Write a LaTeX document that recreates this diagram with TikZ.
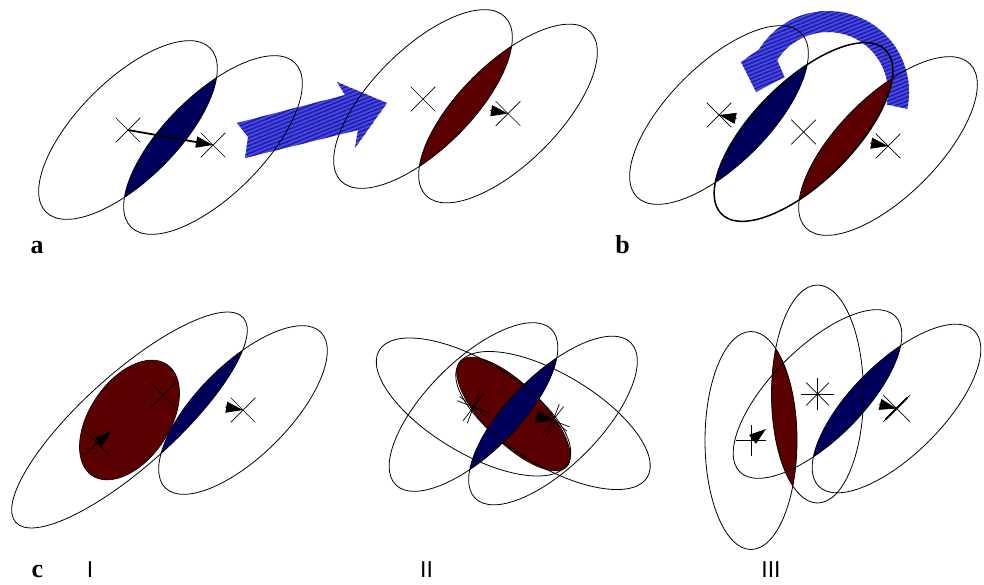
\documentclass[tikz,border=0pt]{standalone}
\usepackage{fontspec}
\setmainfont{Liberation Serif}
\newfontfamily\numfont{Liberation Sans}
\usetikzlibrary{arrows.meta,positioning,calc,shapes.misc,patterns.meta}
\definecolor{lensnavy}{RGB}{0,0,92}
\definecolor{lensred}{RGB}{90,0,0}
\definecolor{arrowblue}{RGB}{72,72,228}
\definecolor{arrowstripe}{RGB}{28,28,168}
\tikzset{
  orbit/.style={draw=black,line width=0.8pt},
  lobe/.style={x radius=116,y radius=50},
  slimlobe/.style={x radius=110,y radius=46},
  widelobe/.style={x radius=153,y radius=46},
  upright/.style={x radius=46,y radius=109},
  centremark/.style={draw=black,cross out,minimum size=24pt,inner sep=0pt,line width=0.7pt},
  plusmark/.style={centremark,rotate=45,minimum size=22pt},
  spinarrow/.style={-{Triangle[length=17pt,width=11pt]},line width=0.7pt},
  bigarrow/.style={preaction={fill=arrowblue},
    pattern={Lines[angle=22,distance=3.6pt,line width=1.5pt]},pattern color=arrowstripe},
  panellabel/.style={font=\fontsize{26}{26}\selectfont\bfseries,anchor=base},
  caselabel/.style={font=\numfont\fontsize{23}{23}\selectfont,anchor=base}
}
\begin{document}
\begin{tikzpicture}[x=1pt,y=-1pt]
  \useasboundingbox (0,0) rectangle (984,584);
  \coordinate (a1) at (128,130);
  \coordinate (a2) at (213,145);
  \coordinate (a3) at (423,99);
  \coordinate (a4) at (508,113.5);
  \coordinate (a4t) at (490,110.5);
  \coordinate (b1) at (719,115);
  \coordinate (b2) at (803.5,132);
  \coordinate (b3) at (888,146);
  \coordinate (b1t) at (736.5,118.5);
  \coordinate (b3t) at (870,143);
  \coordinate (bturn) at (828,92);
  \coordinate (c1) at (129.5,420);
  \coordinate (c1r) at (243,410);
  \coordinate (c1rt) at (225,407);
  \coordinate (c1u) at (163,395);
  \coordinate (c1d) at (97,443);
  \coordinate (c1dtip) at (111.5,431.5);
  \coordinate (c2l) at (473.5,407);
  \coordinate (c2r) at (553,420.5);
  \coordinate (c2m) at (513.5,414);
  \coordinate (c2rt) at (535,417);
  \coordinate (c3a) at (751,440.5);
  \coordinate (c3atip) at (766,429);
  \coordinate (c3m) at (817.5,394);
  \coordinate (c3d) at (896.5,408.5);
  \coordinate (c3dt) at (878.5,404);

  \path[bigarrow] (237,123) -- (248,137) -- (245,158) -- (358,130) -- (355,148)
    -- (387,103) -- (337,82) -- (345,95) -- cycle;
  \path[bigarrow] ($(bturn)+(12:81)$) arc[start angle=12,end angle=-148,radius=81]
    -- ($(bturn)+(-161:92)$) -- ($(bturn)+(-180:72)$) -- ($(bturn)+(-161:46)$)
    -- ($(bturn)+(-148:60)$) arc[start angle=-148,end angle=12,radius=60] -- cycle;

  \begin{scope}
    \clip[rotate around={45:(a1)}] (a1) ellipse[lobe];
    \fill[lensnavy,rotate around={45:(a2)}] (a2) ellipse[lobe];
  \end{scope}
  \begin{scope}
    \clip[rotate around={45:(a3)}] (a3) ellipse[lobe];
    \fill[lensred,rotate around={45:(a4)}] (a4) ellipse[lobe];
  \end{scope}
  \begin{scope}
    \clip[rotate around={45:(b1)}] (b1) ellipse[lobe];
    \fill[lensnavy,rotate around={45:(b2)}] (b2) ellipse[lobe];
  \end{scope}
  \begin{scope}
    \clip[rotate around={45:(b2)}] (b2) ellipse[lobe];
    \fill[lensred,rotate around={45:(b3)}] (b3) ellipse[lobe];
  \end{scope}
  \draw[orbit,rotate around={45:(a1)}] (a1) ellipse[lobe];
  \draw[orbit,rotate around={45:(a2)}] (a2) ellipse[lobe];
  \draw[orbit,rotate around={45:(a3)}] (a3) ellipse[lobe];
  \draw[orbit,rotate around={45:(a4)}] (a4) ellipse[lobe];
  \draw[orbit,rotate around={45:(b1)}] (b1) ellipse[lobe];
  \draw[orbit,line width=1.5pt,rotate around={45:(b2)}] (b2) ellipse[lobe];
  \draw[orbit,rotate around={45:(b3)}] (b3) ellipse[lobe];

  \fill[lensred,draw=black,line width=0.6pt,rotate around={56:(c1)}] (c1) ellipse[x radius=67,y radius=40];
  \begin{scope}
    \clip[rotate around={42:(c1)}] (c1) ellipse[widelobe];
    \fill[lensnavy,rotate around={45:(c1r)}] (c1r) ellipse[slimlobe];
  \end{scope}
  \draw[orbit,rotate around={42:(c1)}] (c1) ellipse[widelobe];
  \draw[orbit,rotate around={45:(c1r)}] (c1r) ellipse[slimlobe];

  \fill[lensred,draw=black,line width=0.6pt,rotate around={-45:(c2m)}] (c2m) ellipse[x radius=75,y radius=29];
  \begin{scope}
    \clip[rotate around={45:(c2l)}] (c2l) ellipse[slimlobe];
    \fill[lensnavy,rotate around={45:(c2r)}] (c2r) ellipse[slimlobe];
  \end{scope}
  \draw[orbit,rotate around={45:(c2l)}] (c2l) ellipse[slimlobe];
  \draw[orbit,rotate around={45:(c2r)}] (c2r) ellipse[slimlobe];
  \draw[orbit,rotate around={-31:(c2l)}] (c2l) ellipse[slimlobe];
  \draw[orbit,rotate around={-31:(c2r)}] (c2r) ellipse[slimlobe];

  \begin{scope}
    \clip (c3a) ellipse[upright];
    \fill[lensred] (c3m) ellipse[upright];
  \end{scope}
  \begin{scope}
    \clip[rotate around={45:(c3m)}] (c3m) ellipse[slimlobe];
    \fill[lensnavy,rotate around={45:(c3d)}] (c3d) ellipse[slimlobe];
  \end{scope}
  \draw[orbit] (c3a) ellipse[upright];
  \draw[orbit] (c3m) ellipse[upright];
  \draw[orbit,rotate around={45:(c3m)}] (c3m) ellipse[slimlobe];
  \draw[orbit,rotate around={45:(c3d)}] (c3d) ellipse[slimlobe];

  \node[centremark] (a1mark) at (a1) {};
  \node[centremark] (a2mark) at (a2) {};
  \node[centremark] (a3mark) at (a3) {};
  \node[centremark] (a4mark) at (a4) {};
  \node[centremark] (b1mark) at (b1) {};
  \node[centremark] (b2mark) at (b2) {};
  \node[centremark] (b3mark) at (b3) {};
  \node[centremark] (c1rmark) at (c1r) {};
  \node[centremark] (c1umark) at (c1u) {};
  \node[centremark] (c1dmark) at (c1d) {};
  \node[centremark,rotate=8] (c2lmark) at (c2l) {};
  \node[centremark,rotate=24] (c2lmarkb) at (c2l) {};
  \node[centremark,rotate=8] (c2rmark) at (c2r) {};
  \node[centremark,rotate=24] (c2rmarkb) at (c2r) {};
  \node[plusmark,minimum size=21pt] (c3amark) at (c3a) {};
  \node[plusmark] (c3mmark) at (c3m) {};
  \node[centremark,minimum size=22pt] (c3mmarkb) at (c3m) {};
  \node[centremark,minimum size=26pt] (c3dmark) at (c3d) {};
  \draw[line width=2pt] ($(c3d)+(-11,11)$) -- ($(c3d)+(11,-11)$);

  \draw[spinarrow,line width=1.8pt] (a1) -- (a2);
  \draw[spinarrow] (a4t) -- (a4);
  \draw[spinarrow] (b1t) -- (b1);
  \draw[spinarrow] (b3t) -- (b3);
  \draw[spinarrow] (c1rt) -- (c1r);
  \draw[spinarrow] (c1d) -- (c1dtip);
  \draw[spinarrow] (c2rt) -- (c2r);
  \draw[spinarrow] (c3a) -- (c3atip);
  \draw[spinarrow] (c3dt) -- (c3d);

  \node[panellabel] (alabel) at (37,253) {a};
  \node[panellabel] (blabel) at (622.5,253) {b};
  \node[panellabel] (clabel) at (37.5,577) {c};
  \node[caselabel] (onelabel) at (90,577) {I};
  \node[caselabel] (twolabel) at (426.5,577) {II};
  \node[caselabel] (threelabel) at (771,577) {III};
\end{tikzpicture}
\end{document}
